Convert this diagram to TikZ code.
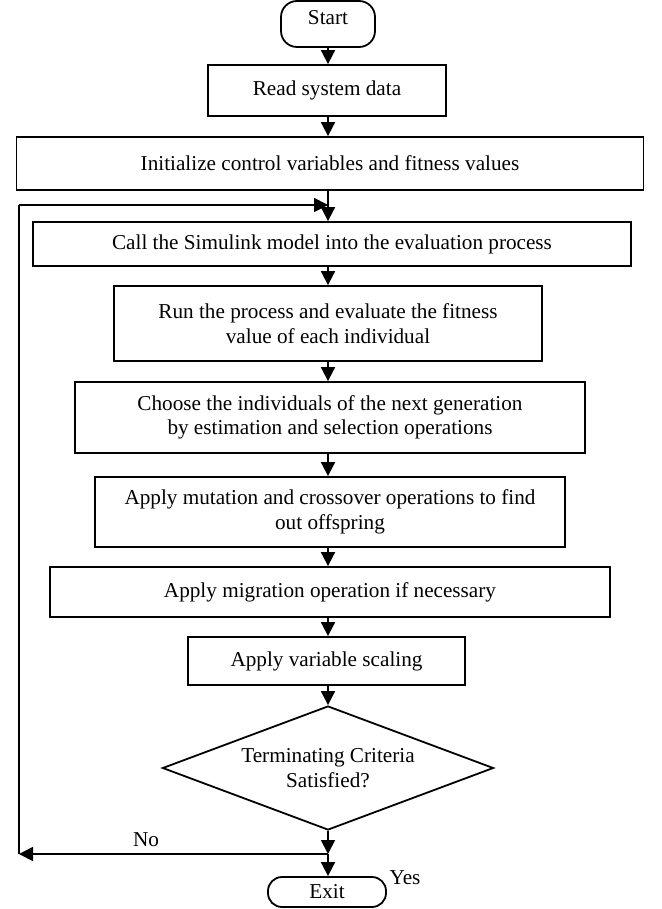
\documentclass[tikz,border=0pt]{standalone}
\usepackage{fontspec}
\setmainfont{Liberation Serif}
\usetikzlibrary{shapes.geometric,arrows.meta}
\begin{document}
\begin{tikzpicture}[x=1pt,y=-1pt,
  box/.style={draw, line width=1.8pt, inner sep=0pt, align=center, font=\fontsize{21.2}{24.4}\selectfont},
  term/.style={box, rounded corners=16pt},
  dec/.style={box, diamond, shape aspect=2.67},
  lbl/.style={inner sep=0pt, font=\fontsize{21.2}{24.4}\selectfont},
  arr/.style={line width=1.8pt, -{Triangle[length=14pt,width=14pt]}},
  ln/.style={line width=1.8pt}]
\useasboundingbox (0,0) rectangle (661,909);
\coordinate (cx) at (328,0);
\node[term, minimum width=94pt, minimum height=46pt, text height=14pt, text depth=12pt] (start) at (328,24) {Start};
\node[box, minimum width=238pt, minimum height=51pt] (read) at (327,90.5) {Read system data};
\node[box, minimum width=627pt, minimum height=53pt] (init) at (330,163.5) {Initialize control variables and fitness values};
\node[box, minimum width=598pt, minimum height=44pt] (call) at (332,244) {Call the Simulink model into the evaluation process};
\node[box, minimum width=428pt, minimum height=75pt] (run) at (328,323.5) {Run the process and evaluate the fitness\\value of each individual};
\node[box, minimum width=510pt, minimum height=71pt] (choose) at (330,417.5) {Choose the individuals of the next generation\\by estimation and selection operations};
\node[box, minimum width=470pt, minimum height=70pt] (mut) at (330,512) {Apply mutation and crossover operations to find\\out offspring};
\node[box, minimum width=560pt, minimum height=50pt] (mig) at (330,592) {Apply migration operation if necessary};
\node[box, minimum width=277pt, minimum height=48pt] (scal) at (326.5,661) {Apply variable scaling};
\node[dec, minimum width=331pt, minimum height=124pt] (dia) at (328,768) {Terminating Criteria\\Satisfied?};
\node[term, minimum width=118pt, minimum height=30pt, rounded corners=14pt] (exit) at (327,892) {Exit};
\node[lbl] (no) at (146,840) {No};
\node[lbl] (yes) at (405,878) {Yes};
\coordinate (nojoin) at (328,854);
\coordinate (botleft) at (19,854);
\coordinate (topleft) at (19,205);
\coordinate (loopend) at (328,205);
\draw[arr] (cx|-start.south) -- (cx|-read.north);
\draw[arr] (cx|-read.south) -- (cx|-init.north);
\draw[arr] (cx|-init.south) -- (cx|-call.north);
\draw[arr] (cx|-call.south) -- (cx|-run.north);
\draw[arr] (cx|-run.south) -- (cx|-choose.north);
\draw[arr] (cx|-choose.south) -- (cx|-mut.north);
\draw[arr] (cx|-mut.south) -- (cx|-mig.north);
\draw[arr] (cx|-mig.south) -- (cx|-scal.north);
\draw[arr] (cx|-scal.south) -- (cx|-dia.north);
\draw[arr] (cx|-dia.south) -- (nojoin);
\draw[arr] (nojoin) -- (botleft);
\draw[ln] (botleft) -- (topleft);
\draw[arr] (topleft) -- (loopend);
\draw[arr] (nojoin) -- (cx|-exit.north);
\end{tikzpicture}
\end{document}
